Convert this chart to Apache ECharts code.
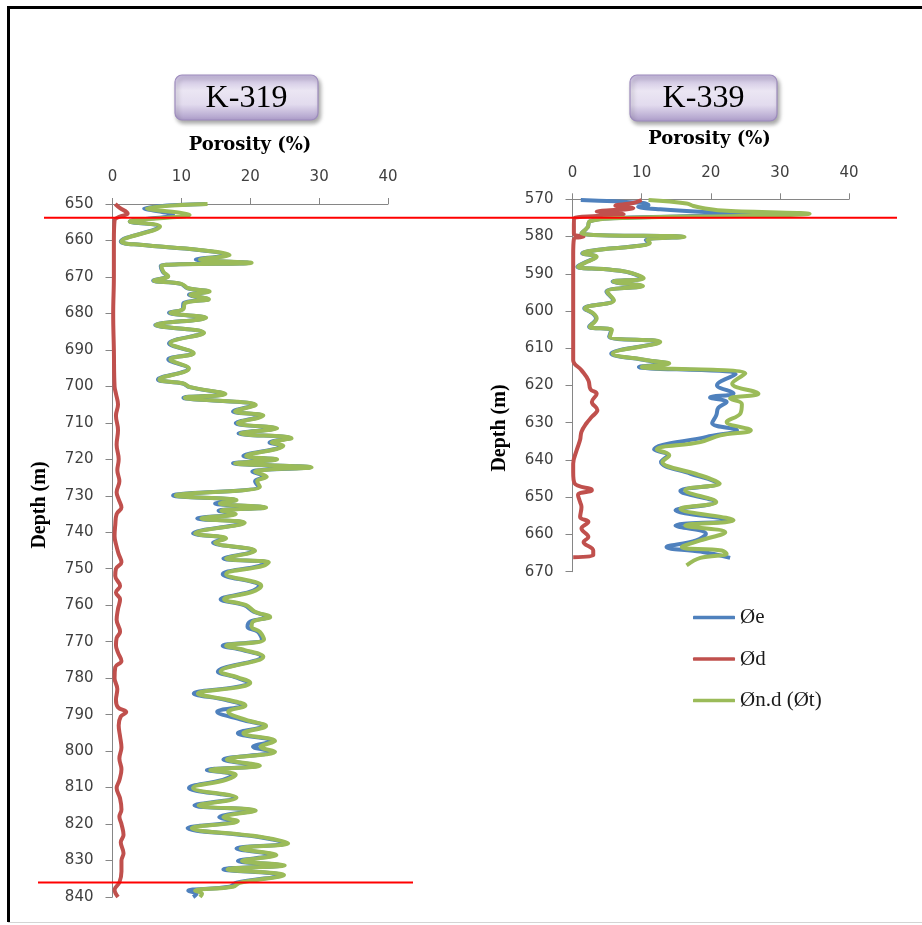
<!DOCTYPE html>
<html>
<head>
<meta charset="utf-8">
<script src="https://cdn.jsdelivr.net/npm/echarts@6/dist/echarts.min.js"></script>
<style>
  html, body { margin: 0; padding: 0; background: #ffffff; }
  #chart { width: 922px; height: 925px; }
</style>
</head>
<body>
<div id="chart"></div>
<script>
// ---- Well K-319: [depth (m), porosity (%)] ----
const k319Total = [
  [650.0,13.8],[651.2,5.0],[653.0,11.2],[654.8,2.5],[656.2,6.9],[660.3,1.3],[661.2,4.0],[662.6,12.7],
  [664.0,17.0],[665.2,12.7],[666.1,20.2],[667.0,7.1],[668.6,7.4],[669.8,8.1],[671.0,6.0],[671.9,10.0],
  [673.1,11.0],[674.0,14.1],[674.9,11.3],[676.1,14.0],[677.2,10.5],[678.8,10.3],[679.8,8.4],[681.2,13.6],
  [683.2,6.3],[685.3,13.3],[688.2,8.4],[690.9,11.8],[692.6,8.4],[695.1,11.1],[698.1,6.8],[699.2,10.3],
  [700.2,11.3],[702.1,16.4],[703.1,10.5],[705.1,20.8],[706.9,17.8],[708.0,21.9],[710.1,18.2],[711.5,23.9],
  [712.9,18.6],[714.2,26.0],[715.4,23.1],[716.3,24.8],[719.1,19.4],[720.0,23.9],[721.1,17.8],[722.2,28.9],
  [723.4,20.7],[724.8,22.4],[726.0,21.0],[727.5,21.4],[729.9,9.2],[731.2,18.0],[732.1,15.6],[733.2,22.3],
  [734.1,15.8],[735.0,17.9],[736.2,12.9],[737.4,19.2],[740.3,12.0],[741.7,16.5],[742.8,14.9],[745.1,20.7],
  [747.2,16.5],[748.2,22.7],[749.2,21.9],[751.5,16.5],[754.7,21.6],[756.3,20.4],[758.4,16.2],[760.0,19.4],
  [761.8,20.7],[763.2,22.9],[764.5,20.4],[765.9,20.2],[767.3,21.4],[769.4,22.0],[771.1,16.5],[772.3,19.2],
  [774.1,21.9],[778.2,15.7],[779.8,18.2],[781.3,20.0],[782.4,18.6],[784.2,12.4],[786.0,16.9],[787.5,19.3],
  [789.2,16.8],[791.4,19.3],[793.1,22.3],[795.1,19.0],[797.2,23.6],[798.8,21.5],[800.2,23.6],[802.3,16.6],
  [804.0,21.4],[805.2,14.2],[806.5,17.9],[807.9,16.5],[810.1,11.7],[812.8,18.0],[814.9,12.5],[816.3,20.8],
  [818.1,16.1],[819.2,18.2],[821.1,11.5],[823.5,21.4],[825.3,25.5],[826.7,18.6],[828.5,23.8],[830.1,18.8],
  [831.3,25.0],[832.4,16.7],[834.0,24.9],[836.1,18.5],[837.2,17.5],[838.3,12.0],[839.1,13.0],[840.0,12.7]
];
const k319Effective = [
  [650.0,13.5],[651.2,4.6],[653.0,8.8],[654.8,2.5],[656.2,6.7],[660.3,1.2],[661.2,4.0],[662.6,12.5],
  [664.0,16.6],[665.2,12.1],[666.1,19.8],[667.0,7.0],[668.6,7.3],[669.8,8.0],[671.0,5.9],[671.9,9.9],
  [673.1,10.9],[674.0,13.9],[674.9,11.1],[676.1,13.9],[677.2,10.3],[678.8,10.2],[679.8,8.2],[681.2,13.5],
  [683.2,6.2],[685.3,13.2],[688.2,8.2],[690.9,11.7],[692.6,8.1],[695.1,11.0],[698.1,6.6],[699.2,10.2],
  [700.2,11.2],[702.1,16.2],[703.1,10.3],[705.1,20.6],[706.9,17.5],[708.0,21.7],[710.1,17.9],[711.5,23.7],
  [712.9,18.3],[714.2,25.8],[715.4,22.8],[716.3,24.6],[719.1,19.0],[720.0,23.7],[721.1,17.5],[722.2,28.7],
  [723.4,20.3],[724.8,22.1],[726.0,20.7],[727.5,21.2],[729.9,8.8],[731.2,17.8],[732.1,14.9],[733.2,22.0],
  [734.1,15.4],[735.0,17.6],[736.2,12.3],[737.4,19.0],[740.3,11.7],[741.7,16.3],[742.8,14.6],[745.1,20.5],
  [747.2,16.1],[748.2,22.4],[749.2,21.3],[751.5,16.0],[754.7,21.3],[756.3,20.0],[758.4,15.7],[760.0,19.1],
  [761.8,20.5],[763.2,22.6],[764.5,20.0],[765.9,19.6],[767.3,21.1],[769.4,21.7],[771.1,16.0],[772.3,18.9],
  [774.1,21.6],[778.2,15.3],[779.8,17.9],[781.3,19.6],[782.4,18.0],[784.2,11.8],[786.0,16.5],[787.5,19.0],
  [789.2,15.2],[791.4,18.8],[793.1,22.0],[795.1,18.2],[797.2,23.2],[798.8,20.4],[800.2,23.2],[802.3,16.1],
  [804.0,21.0],[805.2,13.7],[806.5,17.5],[807.9,16.0],[810.1,11.1],[812.8,17.6],[814.9,11.9],[816.3,20.4],
  [818.1,15.5],[819.2,17.8],[821.1,10.9],[823.5,21.0],[825.3,25.1],[826.7,18.0],[828.5,23.4],[830.1,18.2],
  [831.3,24.6],[832.4,16.1],[834.0,24.5],[836.1,18.0],[837.2,17.0],[838.3,11.0],[839.1,12.2],[840.0,11.7]
];
const k319Density = [
  [650.0,0.4],[651.0,1.0],[652.6,2.2],[653.5,1.0],[654.5,0.3],[660,0.2],[670,0.2],[680,0.1],[690,0.2],
  [700,0.3],[702,0.5],[705,0.8],[708,0.5],[712,0.8],[716,0.6],[720,0.9],[723,0.7],[726,1.0],[729,0.6],
  [731,0.9],[733.2,1.3],[735,0.6],[738,0.4],[741,0.3],[744,0.6],[746,0.9],[748.2,1.3],[750,0.5],[752,0.4],
  [754.7,1.1],[756.5,0.5],[758.4,1.1],[761,0.8],[764,0.6],[767.3,1.1],[769,0.6],[771,0.5],[773,0.8],
  [775.3,1.3],[777,0.4],[780,0.3],[783,0.7],[786,0.5],[788,0.8],[789.3,2.0],[790.5,1.2],[793,0.9],
  [796,1.1],[799,1.3],[802,1.0],[805,1.3],[808,1.0],[810.1,0.6],[813,1.1],[816,1.3],[818,1.0],[820,1.3],
  [823,1.6],[825,1.2],[828,1.6],[830,1.3],[833,1.3],[836,1.0],[838,0.3],[840,0.8]
];

// ---- Well K-339: [depth (m), porosity (%)] ----
const k339Total = [
  [570.2,11.0],[571.1,16.5],[571.8,17.5],[572.4,19.0],[573.1,22.3],[573.9,34.3],[574.4,26.0],[575.1,6.0],
  [575.9,2.5],[577.5,2.2],[579.1,1.3],[580.1,16.2],[580.9,10.8],[581.7,11.2],[582.7,8.8],[583.4,4.5],
  [584.5,1.5],[585.4,3.5],[586.8,2.1],[588.1,0.8],[588.8,4.9],[589.5,7.9],[591.2,10.3],[592.1,5.9],
  [593.3,10.2],[594.8,5.0],[597.1,6.0],[599.3,1.8],[600.6,3.0],[602.0,3.5],[604.2,2.5],[605.1,5.7],
  [606.9,5.4],[608.3,12.7],[611.4,5.8],[613.2,10.8],[614.1,14.0],[615.0,10.0],[616.8,25.0],[619.5,23.1],
  [622.2,26.9],[623.5,22.8],[625.0,24.5],[627.5,24.3],[629.8,22.3],[632.0,25.8],[633.4,21.4],[635.2,18.5],
  [637.2,12.2],[638.7,14.0],[640.5,13.0],[643.7,17.8],[645.0,19.9],[646.3,21.3],[648.1,16.3],[651.3,20.8],
  [653.1,15.6],[656.2,23.3],[657.6,16.3],[659.4,22.1],[661.6,18.5],[663.4,15.8],[664.3,21.6],[665.2,22.3],
  [666.3,18.5],[668.3,16.5]
];
const k339Effective = [
  [570.2,1.2],[571.0,10.2],[571.5,11.0],[572.0,9.5],[572.7,12.7],[573.5,19.9],[574.0,27.2],[574.6,15.0],
  [575.1,5.5],[575.9,2.5],[577.5,2.2],[579.1,1.3],[580.1,16.0],[580.9,10.6],[581.7,11.0],[582.7,8.6],
  [583.4,4.4],[584.5,1.4],[585.4,3.4],[586.8,2.0],[588.1,0.7],[588.8,4.8],[589.5,7.8],[591.2,10.1],
  [592.1,5.8],[593.3,10.0],[594.8,4.9],[597.1,5.9],[599.3,1.7],[600.6,2.9],[602.0,3.4],[604.2,2.4],
  [605.1,5.6],[606.9,5.3],[608.3,12.5],[611.4,5.6],[613.2,10.6],[614.1,13.8],[615.0,9.6],[617.0,23.6],
  [619.9,20.9],[622.1,23.3],[623.2,19.9],[624.4,22.3],[626.0,21.1],[628.0,20.8],[630.1,20.2],[632.0,23.8],
  [633.8,19.4],[637.2,11.8],[638.7,13.8],[640.5,12.8],[643.7,17.1],[645.0,19.5],[646.3,21.0],[648.3,15.6],
  [651.3,20.6],[653.5,14.9],[656.2,22.6],[657.6,14.9],[659.8,19.3],[661.6,17.9],[663.4,13.6],[664.6,18.5],
  [666.3,22.8]
];
const k339Density = [
  [570.2,10.0],[571.0,8.8],[571.7,6.2],[572.4,8.8],[573.3,3.5],[574.0,7.4],[574.5,3.5],[575.0,0.3],
  [577,0.2],[579.3,0.2],[580.0,1.6],[580.7,0.2],[585,0.1],[595,0.1],[605,0.1],[613.2,0.1],[615.9,1.3],
  [618.6,2.3],[621,2.6],[622.2,3.5],[624.4,2.8],[626.6,3.6],[628.4,2.8],[630.2,2.0],[632.4,1.3],
  [634.6,1.1],[637.4,0.6],[641,0.1],[643.2,0.1],[646.3,0.3],[648.1,2.8],[649.4,0.8],[651.3,1.1],
  [652.6,1.3],[655.3,1.1],[656.6,2.3],[658.4,1.3],[660.7,2.3],[662.0,1.6],[664.3,3.0],[665.6,3.0],
  [666.1,0.1]
];

// Axis ranges and tick labels
const porosityTicks = [0, 10, 20, 30, 40];
const k319DepthRange = [650, 840];
const k339DepthRange = [570, 670];
const wellNames = ['K-319', 'K-339'];
const seriesNames = ['Øe', 'Ød', 'Øn.d (Øt)'];
const seriesColors = ['#4f81bd', '#c0504d', '#9bbb59'];

// Depths of the two red correlation markers (K-319 depth scale)
const topMarkerDepth = 653.8;
const bottomMarkerDepth = 836;

const toPoints = rows => rows.map(r => [r[1], r[0]]);

const chart = echarts.init(document.getElementById('chart'), null, { renderer: 'canvas' });

const tickFont = { fontFamily: 'DejaVu Sans', fontSize: 15, color: '#404040' };
const axisGray = '#868686';

function xAxisFor(gridIndex) {
  return {
    type: 'value', gridIndex, position: 'top',
    min: porosityTicks[0], max: porosityTicks[porosityTicks.length - 1], interval: 10,
    axisLine: { show: true, lineStyle: { color: axisGray, width: 1 } },
    axisTick: { show: true, length: 6, lineStyle: { color: axisGray } },
    axisLabel: Object.assign({ margin: 19 }, tickFont),
    splitLine: { show: false }
  };
}
function yAxisFor(gridIndex, range) {
  return {
    type: 'value', gridIndex, inverse: true,
    min: range[0], max: range[1], interval: 10,
    axisLine: { show: true, lineStyle: { color: axisGray, width: 1 } },
    axisTick: { show: true, length: 7, lineStyle: { color: axisGray } },
    axisLabel: Object.assign({ margin: 19 }, tickFont),
    splitLine: { show: false }
  };
}
function lineSeries(name, color, rows, axisIndex) {
  return {
    type: 'line', name, data: toPoints(rows),
    xAxisIndex: axisIndex, yAxisIndex: axisIndex,
    smooth: 0.4, symbol: 'none', clip: false,
    lineStyle: { color, width: 4 }, itemStyle: { color }
  };
}

chart.setOption({
  animation: false,
  grid: [
    { left: 112.5, top: 204, width: 275.5, height: 693 },
    { left: 572.5, top: 199.3, width: 276.5, height: 372.4 }
  ],
  xAxis: [xAxisFor(0), xAxisFor(1)],
  yAxis: [yAxisFor(0, k319DepthRange), yAxisFor(1, k339DepthRange)],
  legend: {
    orient: 'vertical', left: 688, top: 602,
    icon: 'roundRect', itemWidth: 42, itemHeight: 3.5, itemGap: 20.5,
    data: seriesNames,
    textStyle: { fontFamily: 'Liberation Serif', fontSize: 21, color: '#1a1a1a' }
  },
  series: [
    lineSeries(seriesNames[0], seriesColors[0], k319Effective, 0),
    lineSeries(seriesNames[1], seriesColors[1], k319Density, 0),
    lineSeries(seriesNames[2], seriesColors[2], k319Total, 0),
    lineSeries(seriesNames[0], seriesColors[0], k339Effective, 1),
    lineSeries(seriesNames[1], seriesColors[1], k339Density, 1),
    lineSeries(seriesNames[2], seriesColors[2], k339Total, 1)
  ]
});

// Decorations: frame, well title boxes, axis titles and the red marker lines
const boxFill = {
  type: 'linear', x: 0, y: 0, x2: 0, y2: 1,
  colorStops: [
    { offset: 0, color: '#c3b6db' },
    { offset: 0.35, color: '#ebe6f3' },
    { offset: 0.65, color: '#e2dbee' },
    { offset: 1, color: '#ab9bc8' }
  ]
};
function titleBox(label, x, y, w, h) {
  return {
    type: 'group', x, y,
    children: [
      { type: 'rect', shape: { x: 0, y: 0, width: w, height: h, r: 7 },
        style: { fill: boxFill, stroke: '#9d8bbd', lineWidth: 1.2,
                 shadowBlur: 4, shadowOffsetX: 2, shadowOffsetY: 3, shadowColor: 'rgba(0,0,0,0.35)' } },
      { type: 'text', x: w / 2, y: h / 2 + 1,
        style: { text: label, font: '32px "Liberation Serif"', fill: '#000',
                 align: 'center', verticalAlign: 'middle' } }
    ]
  };
}
function porosityTitle(cx, cy) {
  return { type: 'text', x: cx, y: cy,
    style: { text: 'Porosity (%)', font: 'bold 18px "DejaVu Serif"', fill: '#000',
             align: 'center', verticalAlign: 'middle' } };
}
function depthTitle(cx, cy) {
  return { type: 'text', x: cx, y: cy, rotation: Math.PI / 2,
    style: { text: 'Depth (m)', font: 'bold 20px "Liberation Serif"', fill: '#000',
             align: 'center', verticalAlign: 'middle' } };
}

const yTop = chart.convertToPixel({ yAxisIndex: 0 }, topMarkerDepth);
const yBottom = chart.convertToPixel({ yAxisIndex: 0 }, bottomMarkerDepth);

chart.setOption({
  graphic: [
    { type: 'polyline', shape: { points: [[8.5, 922], [8.5, 7.5], [930, 7.5]] },
      style: { stroke: '#000', lineWidth: 3, fill: null } },
    { type: 'line', shape: { x1: 8, y1: 922.5, x2: 922, y2: 922.5 },
      style: { stroke: '#d4d4d4', lineWidth: 1 } },
    titleBox(wellNames[0], 175, 75, 143, 45),
    titleBox(wellNames[1], 630, 75, 147, 46),
    porosityTitle(250, 145),
    porosityTitle(709.5, 139.5),
    depthTitle(40, 505),
    depthTitle(500, 428),
    { type: 'line', z: 100, shape: { x1: 44, y1: yTop, x2: 897, y2: yTop },
      style: { stroke: '#ff0000', lineWidth: 2 } },
    { type: 'line', z: 100, shape: { x1: 38, y1: yBottom, x2: 413, y2: yBottom },
      style: { stroke: '#ff0000', lineWidth: 2 } }
  ]
});
</script>
</body>
</html>
